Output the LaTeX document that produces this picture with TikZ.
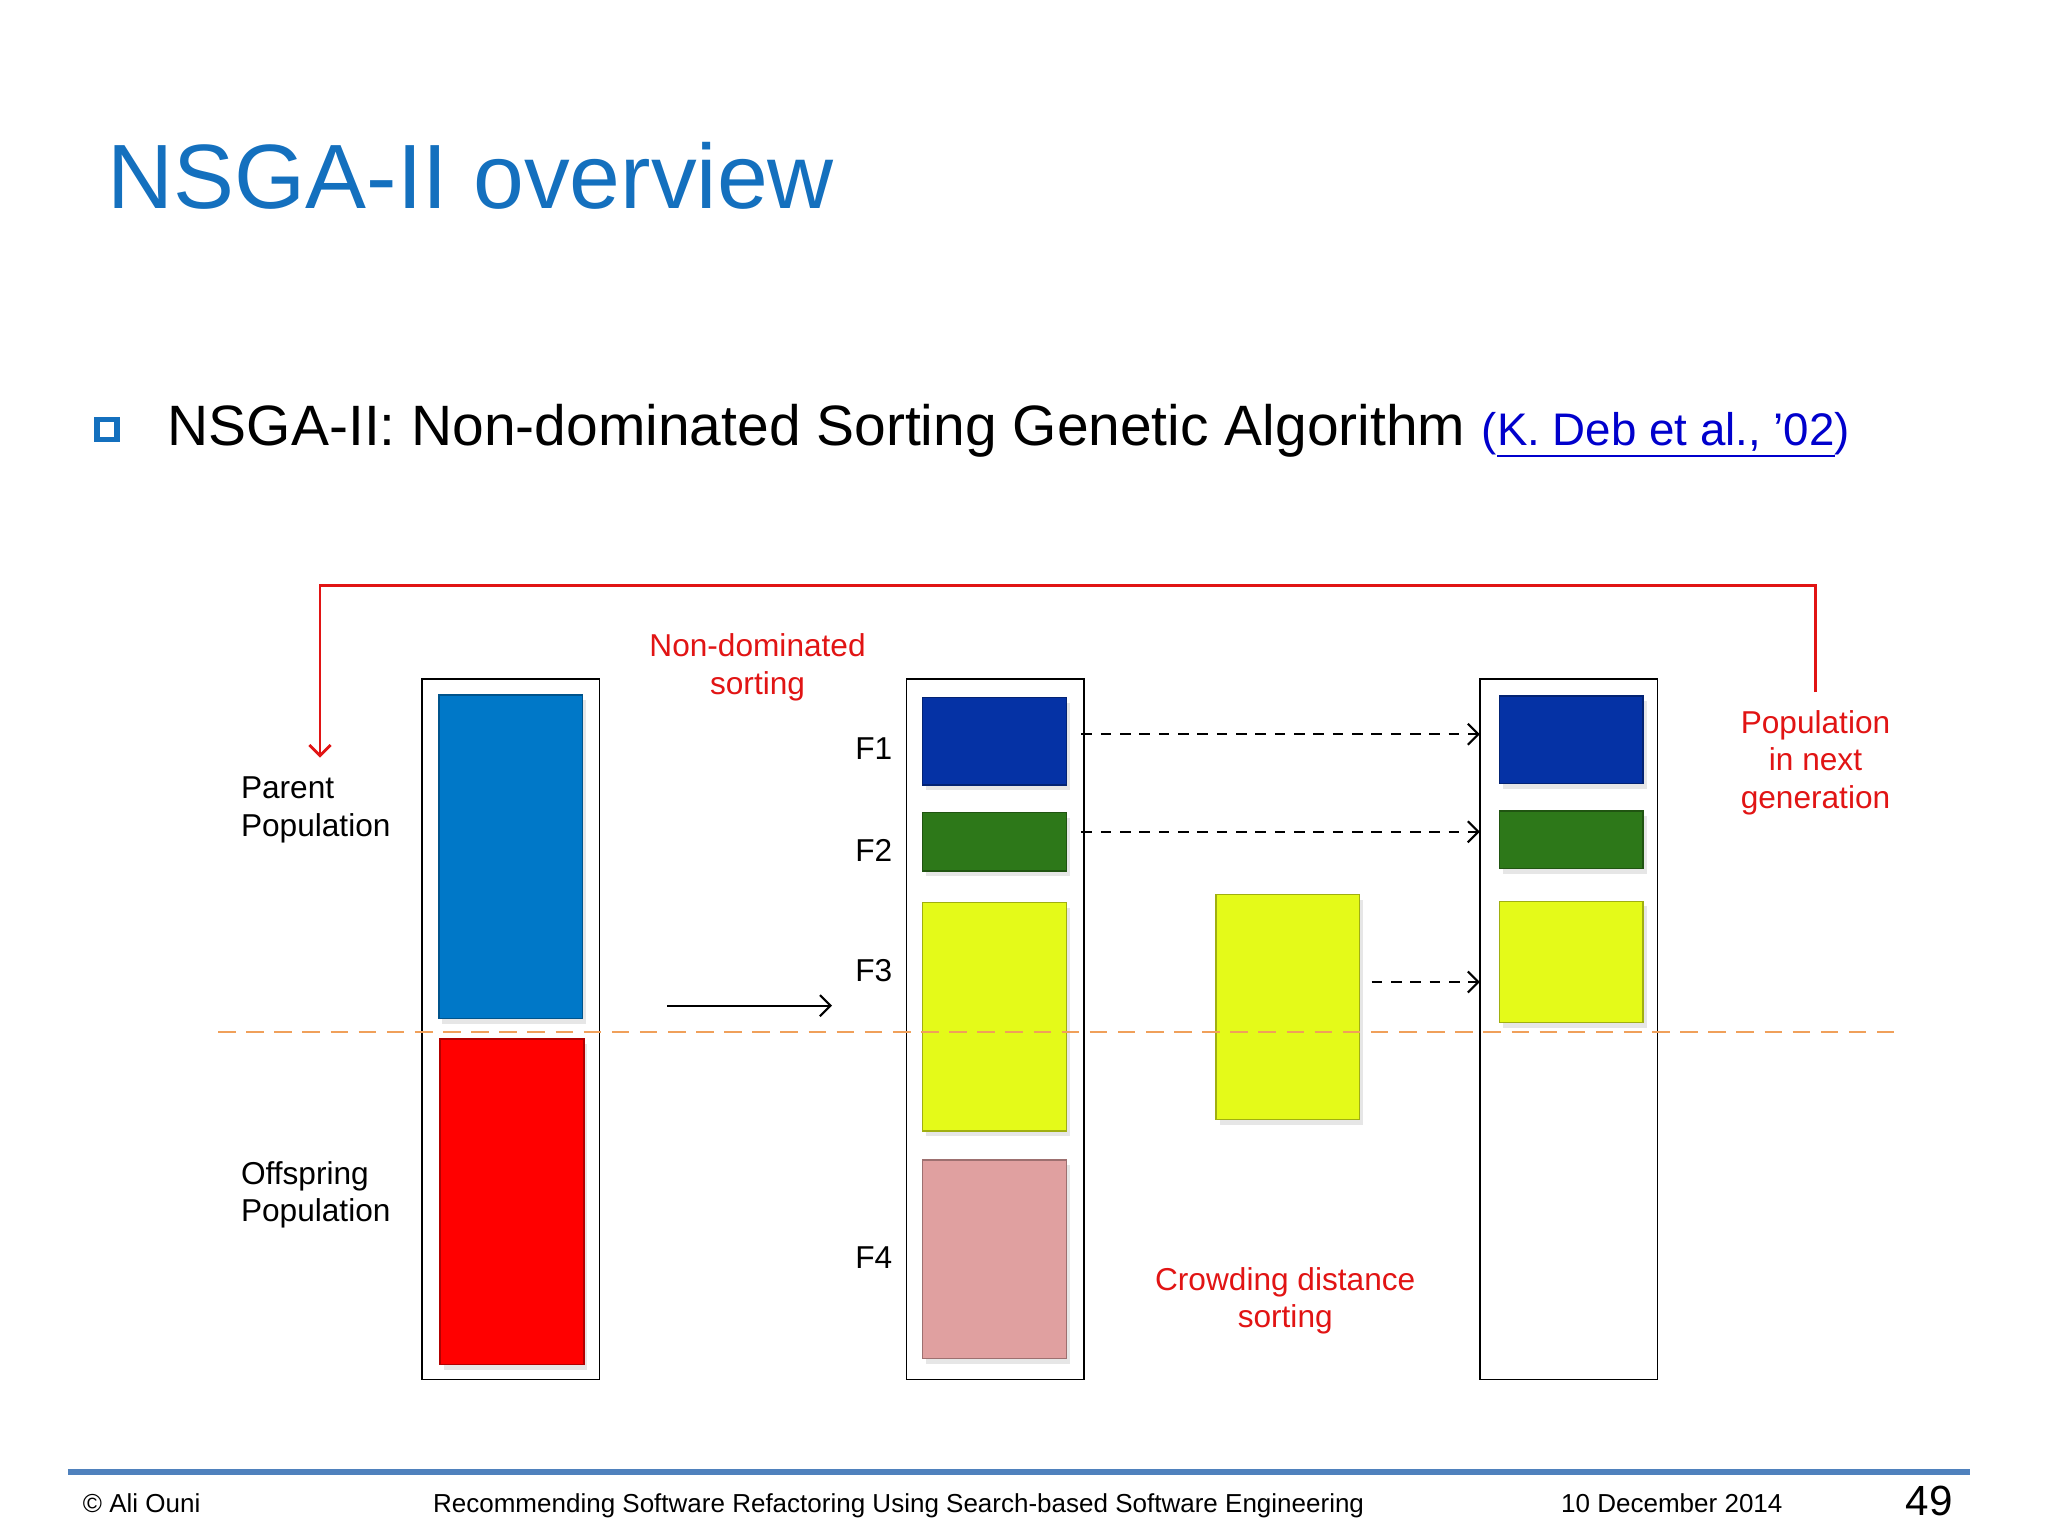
\documentclass[tikz,border=0pt]{standalone}
\usepackage{fontspec}
\setmainfont{Liberation Sans}
\usetikzlibrary{arrows, arrows.meta, positioning, shadows}
\definecolor{titleblue}{RGB}{20,112,190}
\definecolor{parentblue}{RGB}{0,120,200}
\definecolor{darkblue}{RGB}{5,50,165}
\definecolor{darkgreen}{RGB}{45,120,25}
\definecolor{lime}{RGB}{228,250,25}
\definecolor{pink}{RGB}{224,160,160}
\definecolor{redline}{RGB}{225,20,20}
\definecolor{orangeline}{RGB}{240,160,90}
\definecolor{footblue}{RGB}{79,129,189}
\tikzset{
  popbox/.style = {rectangle, draw = black, minimum width = 1.776cm, minimum height = 7.001cm, inner sep = 0, outer sep = 0},
  block/.style = {rectangle, draw = #1!70!black, fill = #1, minimum width = 1.437cm, inner sep = 0, outer sep = 0, drop shadow = {opacity = 0.2, shadow xshift = 1pt, shadow yshift = -1.5pt}},
  label/.style = {font = \fontsize{9}{10.6}\selectfont, align = left},
  redlabel/.style = {font = \fontsize{9}{10.6}\selectfont, text = redline, align = center},
  flabel/.style = {font = \fontsize{9}{10.6}\selectfont},
  tip/.style = {-{Straight Barb[length = 3pt, width = 6pt]}},
  move/.style = {tip, semithick, dash pattern = on 3pt off 2.5pt}
}
\begin{document}
\begin{tikzpicture}[x=0.013061cm, y=-0.013061cm]
    \useasboundingbox (0,0) rectangle (1568,1176);

    \node (title) [anchor = base west, text = titleblue, font = \fontsize{26}{30}\selectfont, inner sep = 0] at (82,160) {NSGA-II overview};
    \node (bullet) [draw = titleblue, fill = white, line width = 1.5pt, minimum size = 0.2cm, inner sep = 0] at (82,329) {};
    \node (headline) [anchor = base west, font = \fontsize{16.2}{19}\selectfont, inner sep = 0] at (128,341) {NSGA-II: Non-dominated Sorting Genetic Algorithm};
    \node (cite) [anchor = base west, text = blue!80!black, font = \fontsize{13}{16}\selectfont, inner sep = 0] at (1134,341) {(\underline{K. Deb et al., ’02})};

    % population boxes
    \node (parent) [popbox] at (391,788) {};
    \node (sorted) [popbox] at (762,788) {};
    \node (next) [popbox] at (1201,788) {};

    \node (pblue) [block = parentblue, minimum height = 3.239cm] at (391,656) {};
    \node (pred) [block = red, minimum height = 3.252cm] at (392,920) {};

    \node (f1) [block = darkblue, minimum height = 0.875cm] at (761.5,567.5) {};
    \node (f2) [block = darkgreen, minimum height = 0.588cm] at (761.5,644.5) {};
    \node (f3) [block = lime, minimum height = 2.286cm] at (761.5,778.5) {};
    \node (f4) [block = pink, minimum height = 1.985cm] at (761.5,964) {};
    \node (crowd) [block = lime, minimum height = 2.246cm] at (986,771) {};

    \node (n1) [block = darkblue, minimum height = 0.875cm] at (1203,566.5) {};
    \node (n2) [block = darkgreen, minimum height = 0.575cm] at (1203,643) {};
    \node (n3) [block = lime, minimum height = 1.215cm] at (1203,736.5) {};

    % texts
    \node (lf1) [flabel] at (669,573) {F1};
    \node (lf2) [flabel] at (669,651) {F2};
    \node (lf3) [flabel] at (669,743) {F3};
    \node (lf4) [flabel] at (669,963) {F4};
    \node (lparent) [label, anchor = west, inner sep = 0] at (184,620) {Parent\\Population};
    \node (loffspring) [label, anchor = west, inner sep = 0] at (184,915) {Offspring\\Population};
    \node (lsort) [redlabel] at (580,511) {Non-dominated\\sorting};
    \node (lnext) [redlabel] at (1390,584) {Population\\in next\\generation};
    \node (lcrowd) [redlabel] at (984,996) {Crowding distance\\sorting};

    \coordinate (cut1) at (167,790);
    \coordinate (cut2) at (1450,790);
    \coordinate (sortin) at (511,770);
    \coordinate (sortout) at (637,770);
    \coordinate (loopstart) at (1390,530);
    \coordinate (loopend) at (245,580);

    \draw[orangeline, dashed, dash pattern = on 5pt off 3pt] (cut1) -- (cut2);
    \draw[tip, semithick] (sortin) -- (sortout);
    \draw[move] ([xshift = 0.15cm, yshift = 0.07cm]f1.east) -- ([yshift = 0.07cm]f1.east -| next.west);
    \draw[move] ([xshift = 0.15cm, yshift = 0.1cm]f2.east) -- ([yshift = 0.1cm]f2.east -| next.west);
    \draw[move] ([xshift = 0.12cm, yshift = 0.25cm]crowd.east) -- ([yshift = 0.25cm]crowd.east -| next.west);
    \draw[tip, redline, thick] (loopstart) |- (245,448) -- (loopend);

    % footer
    \coordinate (footl) at (52,1127);
    \coordinate (footr) at (1508,1127);
    \draw[footblue, line width = 1.5pt] (footl) -- (footr);
    \node (fauthor) [anchor = base west, font = \fontsize{7.4}{9}\selectfont, inner sep = 0] at (63,1158) {© Ali Ouni};
    \node (ftalk) [anchor = base, font = \fontsize{7.4}{9}\selectfont, inner sep = 0] at (688,1158) {Recommending Software Refactoring Using Search-based Software Engineering};
    \node (fdate) [anchor = base, font = \fontsize{7.4}{9}\selectfont, inner sep = 0] at (1280,1158) {10 December 2014};
    \node (fpage) [anchor = base, font = \fontsize{12}{14}\selectfont, inner sep = 0] at (1477,1160) {49};

\end{tikzpicture}
\end{document}
